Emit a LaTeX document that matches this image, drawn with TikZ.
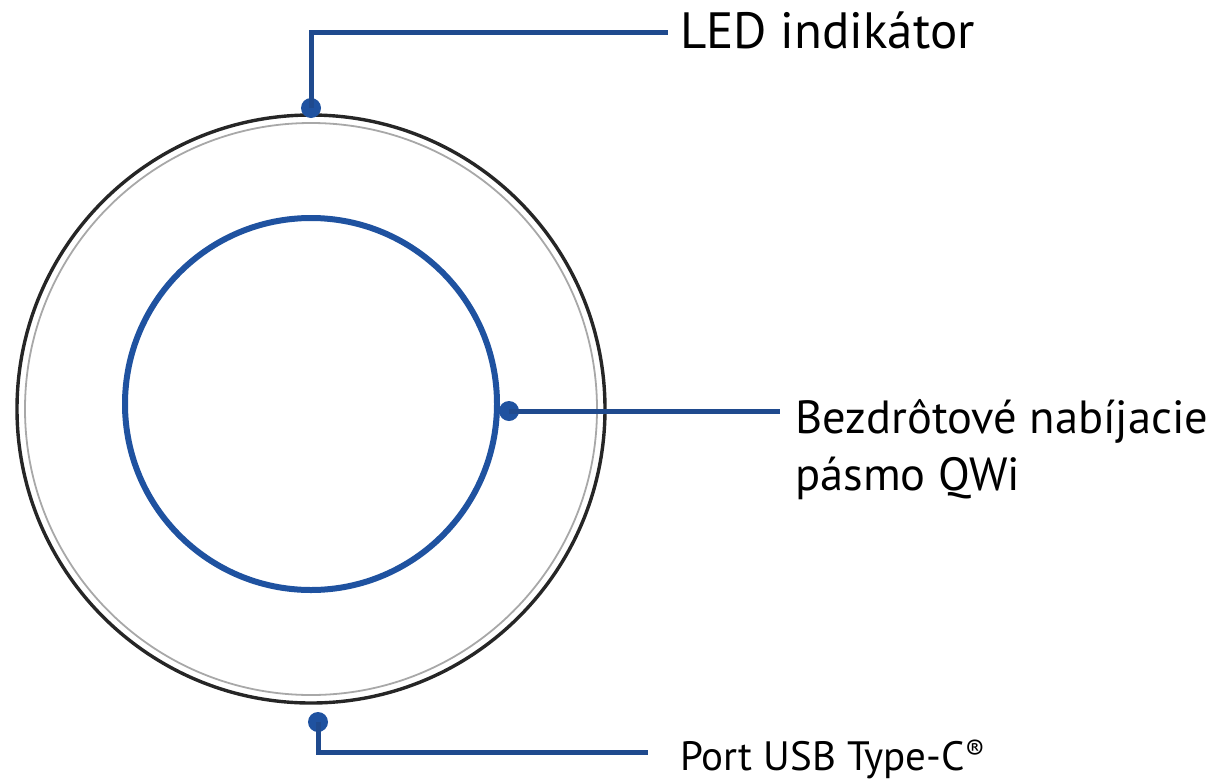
\documentclass[tikz,border=0pt]{standalone}
\usepackage{fontspec}
\setmainfont{PT Sans}
\definecolor{ringblue}{HTML}{1F52A0}
\definecolor{leadblue}{HTML}{1F4A8E}
\definecolor{ringgray}{HTML}{A8A8A8}
\tikzset{
  lead/.style={draw=leadblue, line width=5pt},
  dotmark/.style={circle, fill=ringblue, inner sep=0pt, minimum size=20pt},
  label/.style={anchor=base west, inner sep=0pt, text=black}
}
\begin{document}
\begin{tikzpicture}[x=1pt,y=-1pt]
\useasboundingbox (0,0) rectangle (1220,782);
% rings
\draw[black!85, line width=3.4pt] (311,409) circle[radius=294];
\draw[ringgray, line width=1.8pt] (311,409) circle[radius=286];
\draw[ringblue, line width=6pt] (311,404) circle[radius=186];
% dots
\node[dotmark] (led) at (311,108) {};
\node[dotmark] (qwi) at (509,411) {};
\node[dotmark] (usb) at (318,722) {};
% labels
\node[label, font=\fontsize{51}{60}\selectfont] (tled) at (680,48) {LED indikátor};
\node[label, font=\fontsize{46.5}{57}\selectfont] (tqwi) at (795,433) {Bezdrôtové nabíjacie};
\node[label, font=\fontsize{46.5}{57}\selectfont] (tqwib) at (795,490) {pásmo QWi};
\node[label, font=\fontsize{41}{48}\selectfont] (tusb) at (680,770) {Port USB Type-C\textsuperscript{\textregistered}};
% coordinates
\coordinate (c1) at (311,32);
\coordinate (e1) at (668,32);
\coordinate (e2) at (780,411);
\coordinate (c3) at (318,752);
\coordinate (e3) at (648,752);
% leaders
\draw[lead] (led.center) -- (c1) -- (e1);
\draw[lead] (qwi.center) -- (e2);
\draw[lead] (usb.center) -- (c3) -- (e3);
\end{tikzpicture}
\end{document}
